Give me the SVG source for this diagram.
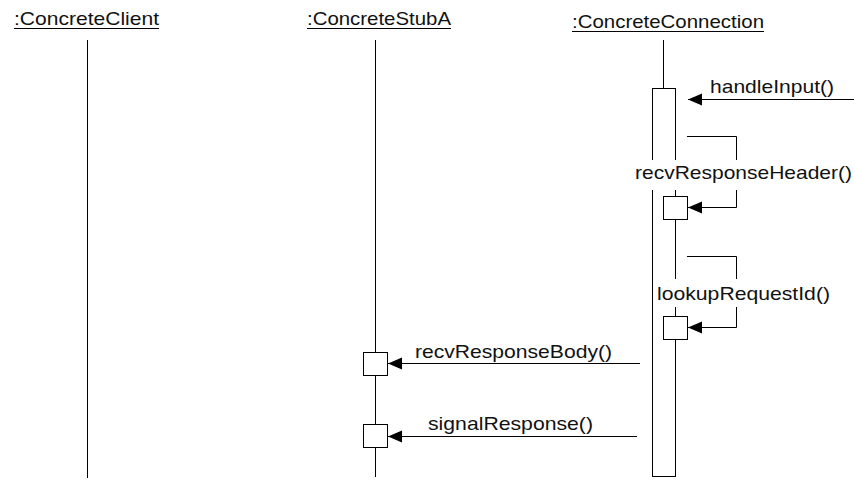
<svg xmlns="http://www.w3.org/2000/svg" width="854" height="483" viewBox="0 0 854 483">
<style>
  .ln { stroke: #000; stroke-width: 1; fill: none; }
  .box { stroke: #000; stroke-width: 1; fill: #fff; }
  .msg { stroke: #000; stroke-width: 1; fill: none; marker-end: url(#ah); }
  .t { font-family: "Liberation Sans", Arial, sans-serif; font-size: 19px; fill: #111; }
  .bg { fill: #fff; stroke: none; }
</style>
<defs>
  <marker id="ah" markerUnits="userSpaceOnUse" markerWidth="15" markerHeight="13" refX="14" refY="6" orient="auto">
    <path d="M0,0 L14,6 L0,12 z" fill="#000"/>
  </marker>
</defs>
<rect width="854" height="483" fill="#fff"/>

<g id="client">
  <text class="t" x="14" y="25" textLength="145" lengthAdjust="spacingAndGlyphs">:ConcreteClient</text>
  <line class="ln" x1="14" y1="28.5" x2="159" y2="28.5"/>
  <line class="ln" x1="87.5" y1="40" x2="87.5" y2="478"/>
</g>

<g id="stubA">
  <text class="t" x="307" y="25" textLength="144" lengthAdjust="spacingAndGlyphs">:ConcreteStubA</text>
  <line class="ln" x1="307" y1="28.5" x2="451" y2="28.5"/>
  <line class="ln" x1="375.5" y1="40" x2="375.5" y2="477"/>
  <rect class="box" x="363.5" y="352.5" width="24" height="23"/>
  <rect class="box" x="363.5" y="424.5" width="24" height="23"/>
</g>

<g id="connection">
  <text class="t" x="572" y="28" textLength="192" lengthAdjust="spacingAndGlyphs">:ConcreteConnection</text>
  <line class="ln" x1="572" y1="31.5" x2="764" y2="31.5"/>
  <line class="ln" x1="663.5" y1="40" x2="663.5" y2="88"/>
  <rect class="box" x="652.5" y="88.5" width="23" height="388"/>
  <rect class="box" x="663.5" y="196.5" width="24" height="23"/>
  <rect class="box" x="663.5" y="316.5" width="24" height="23"/>
</g>

<g id="connectors">
  <line class="msg" x1="854" y1="99.5" x2="688" y2="99.5"/>
  <path class="msg" d="M687,136.5 H736.5 V207.5 H688"/>
  <path class="msg" d="M687,256.5 H736.5 V327.5 H688"/>
  <line class="msg" x1="640" y1="363.5" x2="388" y2="363.5"/>
  <line class="msg" x1="637" y1="436.5" x2="388" y2="436.5"/>
</g>

<g id="labels">
  <text class="t" x="710" y="93" textLength="124" lengthAdjust="spacingAndGlyphs">handleInput()</text>
  <rect class="bg" x="633" y="160" width="221" height="30"/>
  <text class="t" x="635" y="179" textLength="217" lengthAdjust="spacingAndGlyphs">recvResponseHeader()</text>
  <rect class="bg" x="655" y="279" width="178" height="28"/>
  <text class="t" x="657" y="300" textLength="173" lengthAdjust="spacingAndGlyphs">lookupRequestId()</text>
  <text class="t" x="415" y="358" textLength="197" lengthAdjust="spacingAndGlyphs">recvResponseBody()</text>
  <text class="t" x="428" y="430" textLength="165" lengthAdjust="spacingAndGlyphs">signalResponse()</text>
</g>
</svg>
